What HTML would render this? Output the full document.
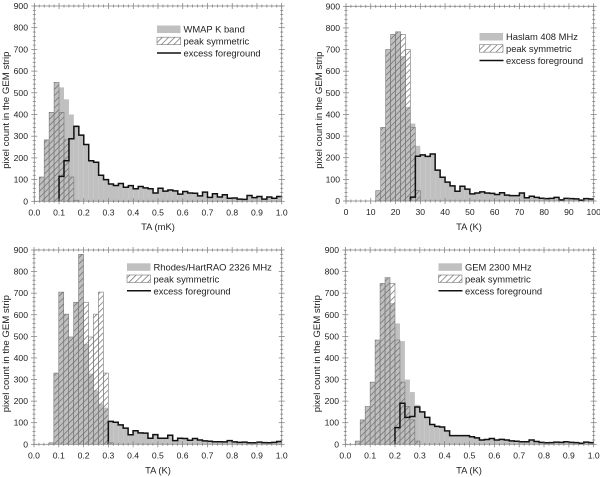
<!DOCTYPE html>
<html>
<head>
<meta charset="utf-8">
<title>Pixel count histograms in the GEM strip</title>
<style>
html,body{margin:0;padding:0;background:#fff;}
svg{display:block;font-family:"Liberation Sans",sans-serif;filter:blur(0.3px);}
</style>
</head>
<body>
<svg id="chart" xmlns="http://www.w3.org/2000/svg" width="600" height="477" viewBox="0 0 600 477">
<defs>
<pattern id="hatch" patternUnits="userSpaceOnUse" width="4.4" height="4.4" patternTransform="rotate(45)">
<rect width="4.4" height="4.4" fill="none"/>
<line x1="0" y1="0" x2="0" y2="4.4" stroke="#6a6a6a" stroke-width="1.4"/>
</pattern>
</defs>
</svg>
<script>
// Panel 1: WMAP K band (bin width 0.02 mK)
const wmapTotal = [0,112,283,410,548,525,470,400,350,305,262,187,180,120,100,80,73,82,65,72,58,68,62,58,38,60,47,52,48,33,45,38,37,25,42,18,35,20,30,14,15,10,9,27,17,22,10,20,14,22];
const wmapSymmetric = [0,112,283,410,548,410,283,112,5];
const wmapExcess = [null,null,null,null,null,115,187,288,345,305,262,187,180,120,100,80,73,82,65,72,58,68,62,58,38,60,47,52,48,33,45,38,37,25,42,18,35,20,30,14,15,10,9,27,17,22,10,20,14,22];
const wmapXTicks = ["0.0","0.1","0.2","0.3","0.4","0.5","0.6","0.7","0.8","0.9","1.0"];

// Panel 2: Haslam 408 MHz (bin width 2 K)
const haslamTotal = [0,0,0,0,0,0,48,340,700,770,782,670,435,358,255,213,206,217,143,110,87,70,45,68,55,33,37,42,37,35,30,38,27,25,25,37,15,22,17,13,11,12,17,5,12,11,10,4,11,9];
const haslamSymmetric = [0,0,0,0,0,0,48,340,700,770,782,770,700,340,48];
const haslamExcess = [null,null,null,null,null,null,null,null,null,null,null,null,null,18,207,213,206,217,143,110,87,70,45,68,55,33,37,42,37,35,30,38,27,25,25,37,15,22,17,13,11,12,17,5,12,11,10,4,11,9];
const haslamXTicks = ["0","10","20","30","40","50","60","70","80","90","100"];

// Panel 3: Rhodes/HartRAO 2326 MHz (bin width 0.02 K)
const rhodesTotal = [0,0,0,7,330,705,603,497,658,880,465,328,250,188,170,106,102,90,75,44,63,53,52,28,45,28,28,42,17,28,27,19,27,20,16,14,12,12,11,17,11,9,10,7,7,10,8,7,9,13];
const rhodesSymmetric = [0,0,0,7,330,705,603,497,658,880,658,497,603,705,330,7];
const rhodesExcess = [null,null,null,null,null,null,null,null,null,null,null,null,null,null,null,106,102,90,75,44,63,53,52,28,45,28,28,42,17,28,27,19,27,20,16,14,12,12,11,17,11,9,10,7,7,10,8,7,9,13];
const rhodesXTicks = ["0.0","0.1","0.2","0.3","0.4","0.5","0.6","0.7","0.8","0.9","1.0"];

// Panel 4: GEM 2300 MHz (bin width 0.02 K)
const gemTotal = [0,0,15,113,175,288,483,745,772,655,560,478,300,242,183,150,125,92,83,80,62,40,40,40,40,35,30,20,22,27,20,23,20,16,14,12,12,20,13,9,7,8,10,9,12,9,8,5,10,8];
const gemSymmetric = [0,0,15,113,175,288,483,745,772,745,483,288,175,113,15];
const gemExcess = [null,null,null,null,null,null,null,null,null,null,77,190,125,129,173,150,125,92,83,80,62,40,40,40,40,35,30,20,22,27,20,23,20,16,14,12,12,20,13,9,7,8,10,9,12,9,8,5,10,8];
const gemXTicks = ["0.0","0.1","0.2","0.3","0.4","0.5","0.6","0.7","0.8","0.9","1.0"];

const yTickLabels = ["0","100","200","300","400","500","600","700","800","900"];
const yMaxValue = 900;

const panels = [
  {id:"wmap", total:wmapTotal, sym:wmapSymmetric, exc:wmapExcess, ticks:wmapXTicks, xTitle:"TA (mK)", legend:"WMAP K band",
   left:34.3,right:281.7,top:6,bottom:201.3, yLabelX:28, yTitleX:9, xTitleX:158, xTitleY:230, lx:157, ly:25.5},
  {id:"haslam", total:haslamTotal, sym:haslamSymmetric, exc:haslamExcess, ticks:haslamXTicks, xTitle:"TA (K)", legend:"Haslam 408 MHz",
   left:346,right:593.7,top:6.3,bottom:201, yLabelX:340, yTitleX:322, xTitleX:469, xTitleY:230, lx:479.5, ly:33},
  {id:"rhodes", total:rhodesTotal, sym:rhodesSymmetric, exc:rhodesExcess, ticks:rhodesXTicks, xTitle:"TA (K)", legend:"Rhodes/HartRAO 2326 MHz",
   left:34,right:281.7,top:250,bottom:444.3, yLabelX:28, yTitleX:9, xTitleX:158, xTitleY:473.5, lx:127, ly:263.3},
  {id:"gem", total:gemTotal, sym:gemSymmetric, exc:gemExcess, ticks:gemXTicks, xTitle:"TA (K)", legend:"GEM 2300 MHz",
   left:345.3,right:593.7,top:250,bottom:444.3, yLabelX:339, yTitleX:320, xTitleX:469, xTitleY:473.5, lx:438.5, ly:263.3}
];

const NS = "http://www.w3.org/2000/svg";
const svg = document.getElementById("chart");

function make(tag, parent, attrs, text) {
  const el = document.createElementNS(NS, tag);
  for (const k in attrs) el.setAttribute(k, attrs[k]);
  if (text !== undefined) el.textContent = text;
  parent.appendChild(el);
  return el;
}

panels.forEach(function (p) {
  const binCount = p.total.length;
  const xScale = function (binEdge) { return p.left + (p.right - p.left) * binEdge / binCount; };
  const yScale = function (v) { return p.bottom - (p.bottom - p.top) * v / yMaxValue; };

  const g = make("g", svg, {});
  
  

  // total histogram
  p.total.forEach(function (v, i) {
    if (!v) return;
    const bar = make("rect", g, {x:xScale(i), y:yScale(v), width:xScale(i+1)-xScale(i), height:yScale(0)-yScale(v), fill:"#c0c0c0"});
    
    
  });

  // symmetric peak histogram
  p.sym.forEach(function (v, i) {
    if (!v) return;
    const bar = make("rect", g, {x:xScale(i), y:yScale(v), width:xScale(i+1)-xScale(i), height:yScale(0)-yScale(v), fill:"url(#hatch)", stroke:"#777", "stroke-width":0.6});
    
    
  });

  // frame
  const frame = make("rect", g, {x:p.left, y:p.top, width:p.right-p.left, height:p.bottom-p.top, fill:"none", stroke:"#8a8a8a", "stroke-width":0.8});
  
  

  // excess foreground step line
  const firstBin = p.exc.findIndex(function (v) { return v !== null; });
  let d = "M" + xScale(firstBin) + " " + yScale(0);
  p.exc.forEach(function (v, i) {
    if (v === null) return;
    d += "L" + xScale(i) + " " + yScale(v) + "L" + xScale(i+1) + " " + yScale(v);
  });
  const line = make("path", g, {d:d, fill:"none", stroke:"#111", "stroke-width":1.5, "stroke-linejoin":"miter"});
  
  

  // x ticks and labels
  const xMajorCount = p.ticks.length - 1;
  for (let i = 0; i <= xMajorCount * 5; i++) {
    const x = p.left + (p.right - p.left) * i / (xMajorCount * 5);
    const major = i % 5 === 0;
    const len = major ? 3 : 1.5;
    [p.bottom, p.top].forEach(function (yy) {
      const t = make("line", g, {x1:x, x2:x, y1:yy-len, y2:yy+len, stroke:"#777", "stroke-width":0.7});
      
      
    });
  }
  p.ticks.forEach(function (label, i) {
    const x = p.left + (p.right - p.left) * i / xMajorCount;
    const t = make("text", g, {x:x, y:p.bottom+14, "text-anchor":"middle", "font-size":8.6, fill:"#222"}, label);
    
    
  });

  // y ticks and labels
  const yMajorCount = yTickLabels.length - 1;
  for (let i = 0; i <= yMajorCount * 5; i++) {
    const y = p.bottom - (p.bottom - p.top) * i / (yMajorCount * 5);
    const major = i % 5 === 0;
    const len = major ? 3 : 1.5;
    [p.left, p.right].forEach(function (xx) {
      const t = make("line", g, {x1:xx-len, x2:xx+len, y1:y, y2:y, stroke:"#777", "stroke-width":0.7});
      
      
    });
  }
  yTickLabels.forEach(function (label, i) {
    const y = p.bottom - (p.bottom - p.top) * i / yMajorCount;
    const t = make("text", g, {x:p.yLabelX, y:y+3, "text-anchor":"end", "font-size":8.6, fill:"#222"}, label);
    
    
  });

  // axis titles
  const xt = make("text", g, {x:p.xTitleX, y:p.xTitleY, "text-anchor":"middle", "font-size":9.4, fill:"#222"}, p.xTitle);
  
  
  const midY = (p.top + p.bottom) / 2 + 6.5;
  const yt = make("text", g, {x:p.yTitleX, y:midY, "text-anchor":"middle", "font-size":9.6, fill:"#222", transform:"rotate(-90 " + p.yTitleX + " " + midY + ")"}, "pixel count in the GEM strip");
  
  

  // legend
  const lg = make("g", g, {});
  
  
  const sw1 = make("rect", lg, {x:p.lx, y:p.ly, width:23.5, height:7.5, fill:"#c0c0c0"});
  
  
  const sw2 = make("rect", lg, {x:p.lx, y:p.ly+11.7, width:23.5, height:7.5, fill:"url(#hatch)", stroke:"#777", "stroke-width":0.6});
  
  
  const sw3 = make("line", lg, {x1:p.lx, x2:p.lx+24, y1:p.ly+27.5, y2:p.ly+27.5, stroke:"#111", "stroke-width":1.5});
  
  
  const tx = p.lx + 26.5;
  const l1 = make("text", lg, {x:tx, y:p.ly+7, "font-size":9.4, fill:"#222"}, p.legend);
  
  
  const l2 = make("text", lg, {x:tx, y:p.ly+19, "font-size":9.4, fill:"#222"}, "peak symmetric");
  
  
  const l3 = make("text", lg, {x:tx, y:p.ly+31, "font-size":9.4, fill:"#222"}, "excess foreground");
  
  
});
</script>
</body>
</html>
